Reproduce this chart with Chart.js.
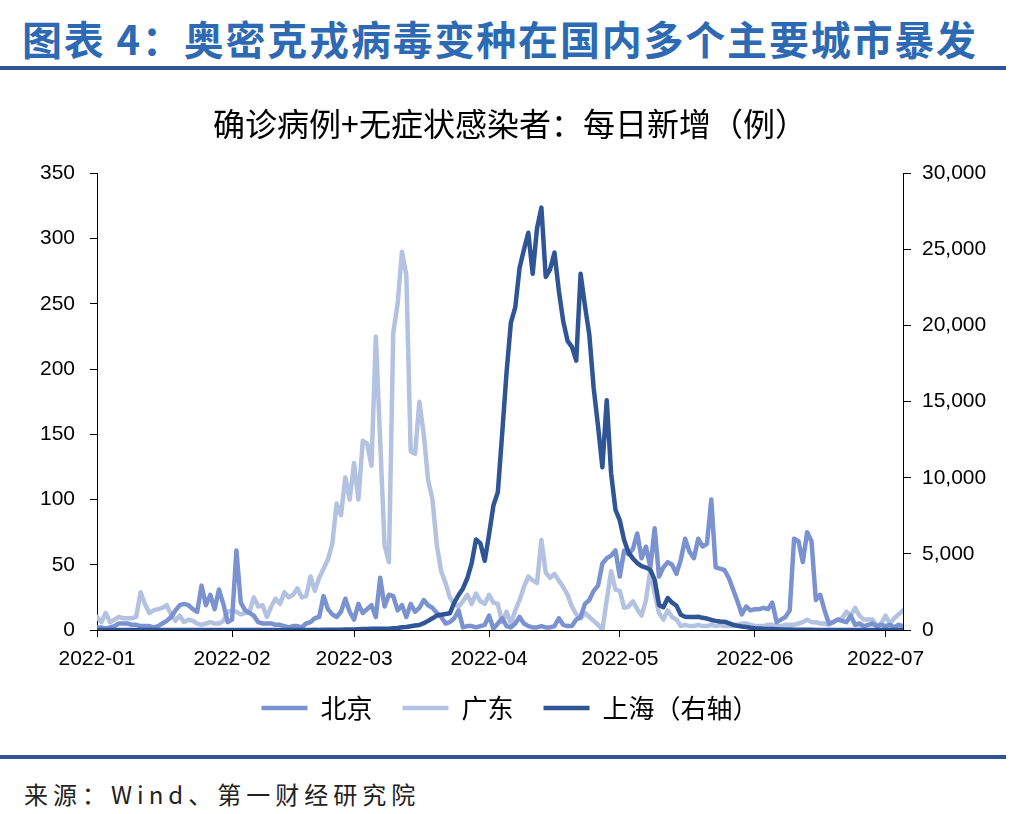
<!DOCTYPE html>
<html>
<head>
<meta charset="utf-8">
<script src="https://cdn.jsdelivr.net/npm/chart.js@4.4.1/dist/chart.umd.min.js"></script>
<style>
  html, body { margin: 0; padding: 0; background: #fff; }
  body { width: 1020px; height: 814px; position: relative; overflow: hidden; font-family: "Noto Sans CJK SC", sans-serif; }
  .head { position: absolute; left: 22px; top: 16px; font-size: 40px; line-height: 44px; font-weight: bold; color: #2E6AB3; letter-spacing: 1.8px; white-space: nowrap; }
  .rule { position: absolute; left: 0; width: 1006px; height: 4px; background: #2F5597; }
  .src { position: absolute; left: 24px; top: 779px; font-size: 24px; line-height: 30px; color: #222; letter-spacing: 5px; white-space: nowrap; }
  #wrap { position: absolute; left: 0; top: 80px; width: 1020px; height: 660px; }
</style>
</head>
<body>
<div class="head">图表 4：奥密克戎病毒变种在国内多个主要城市暴发</div>
<div class="rule" style="top:66px"></div>
<div id="wrap"><canvas id="c"></canvas></div>
<div class="rule" style="top:755px"></div>
<div class="src">来源：Wind、第一财经研究院</div>
<script>
// daily values, 2022-01-01 .. 2022-07-05 (day index 0..185)
const monthTicks = [0, 31, 59, 90, 120, 151, 181];
const monthLabels = ['2022-01', '2022-02', '2022-03', '2022-04', '2022-05', '2022-06', '2022-07'];

const beijing = [
  2, 2, 1, 2, 3, 5, 5, 5, 4, 4,
  3, 3, 3, 2, 3, 5, 7, 10, 15, 19,
  20, 19, 16, 14, 34, 19, 27, 16, 31, 20,
  6, 8, 61, 21, 15, 13, 11, 6, 5, 5,
  5, 4, 4, 3, 2, 3, 3, 2, 5, 6,
  9, 10, 26, 16, 12, 10, 14, 24, 14, 8,
  20, 13, 16, 19, 10, 40, 18, 27, 26, 15,
  19, 10, 20, 14, 17, 23, 19, 17, 13, 10,
  5, 6, 9, 15, 2, 3, 3, 2, 3, 4,
  11, 1, 5, 9, 3, 2, 5, 10, 5, 3,
  2, 2, 3, 2, 2, 3, 9, 4, 3, 3,
  8, 10, 20, 23, 30, 34, 51, 55, 57, 61,
  41, 61, 58, 62, 74, 55, 64, 48, 78, 41,
  48, 52, 50, 43, 54, 70, 60, 55, 70, 64,
  66, 100, 48, 47, 46, 40, 31, 22, 12, 18,
  15, 16, 16, 17, 16, 21, 6, 8, 10, 15,
  70, 68, 52, 75, 68, 23, 27, 15, 5, 6,
  8, 7, 6, 11, 4, 5, 3, 4, 5, 3,
  4, 3, 4, 2, 4, 3
];

const guangdong = [
  10, 6, 13, 6, 8, 10, 9, 9, 9, 10,
  29, 20, 13, 15, 16, 17, 19, 12, 7, 11,
  6, 8, 7, 5, 4, 5, 6, 5, 5, 7,
  14, 15, 14, 12, 13, 14, 25, 18, 19, 10,
  18, 24, 20, 29, 25, 27, 32, 25, 26, 41,
  30, 40, 47, 54, 66, 97, 88, 117, 100, 128,
  100, 145, 143, 126, 225, 145, 65, 52, 228, 250,
  290, 272, 137, 135, 175, 150, 115, 100, 65, 45,
  36, 25, 20, 18, 22, 27, 20, 28, 22, 20,
  27, 21, 20, 6, 14, 5, 15, 23, 33, 41,
  38, 36, 69, 44, 40, 43, 38, 33, 27, 18,
  12, 9, 13, 10, 7, 4, 0, 23, 45, 31,
  30, 17, 18, 22, 16, 11, 23, 46, 28, 13,
  8, 15, 10, 8, 3, 4, 3, 3, 4, 3,
  3, 4, 3, 4, 3, 3, 3, 4, 5, 5,
  4, 3, 3, 3, 4, 4, 3, 3, 4, 4,
  4, 5, 6, 8, 6, 6, 5, 5, 4, 6,
  8, 9, 14, 11, 17, 11, 8, 8, 8, 3,
  5, 11, 5, 9, 12, 15
];

const shanghai = [
  3, 2, 4, 3, 2, 3, 5, 4, 3, 2,
  3, 4, 2, 3, 3, 2, 3, 4, 3, 2,
  3, 2, 4, 3, 3, 2, 3, 4, 3, 3,
  2, 3, 4, 3, 3, 5, 4, 3, 2, 4,
  3, 4, 5, 3, 4, 5, 4, 5, 6, 8,
  10, 8, 12, 15, 16, 18, 20, 25, 30, 40,
  55, 60, 70, 78, 75, 80, 85, 90, 110, 130,
  180, 200, 250, 290, 330, 450, 600, 770, 950, 1000,
  1050, 1100, 1800, 2300, 2730, 3400, 4400, 5950, 5690, 4550,
  6300, 8200, 9050, 12900, 16900, 20200, 21200, 23800, 25000, 26100,
  23400, 26400, 27750, 23200, 23700, 24800, 22300, 20300, 19000, 18600,
  17700, 23400, 21300, 19400, 15900, 13400, 10700, 15100, 10300, 7900,
  7200, 5900, 5100, 4700, 4400, 4200, 4100, 3950, 3300, 1650,
  1500, 2100, 1800, 1600, 1000, 870, 850, 860, 870, 800,
  750, 660, 600, 560, 550, 450, 340, 280, 230, 200,
  150, 120, 100, 80, 70, 60, 50, 40, 30, 25,
  20, 18, 15, 12, 10, 8, 8, 6, 5, 4,
  4, 3, 3, 2, 2, 2, 1, 1, 1, 1,
  1, 1, 1, 1, 1, 1
];

const colors = { beijing: '#7A93D0', guangdong: '#B4C2E2', shanghai: '#2F5597' };
const toPoints = arr => arr.map((v, i) => ({ x: i, y: v }));
const tickFont = { family: 'Liberation Sans', size: 21 };
const cjk = '"Noto Sans CJK SC", sans-serif';

function series(label, arr, color, axis, order) {
  return {
    label, data: toPoints(arr), yAxisID: axis, order,
    borderColor: color, backgroundColor: color,
    pointBorderColor: color, pointBackgroundColor: color, pointBorderWidth: 4.5,
  };
}

new Chart(document.getElementById('c'), {
  type: 'line',
  data: {
    datasets: [
      series('北京', beijing, colors.beijing, 'y', 1),
      series('广东', guangdong, colors.guangdong, 'y', 2),
      series('上海（右轴）', shanghai, colors.shanghai, 'y2', 0),
    ],
  },
  options: {
    responsive: true,
    maintainAspectRatio: false,
    animation: false,
    layout: { padding: { left: 0, right: 0, top: 0, bottom: 9 } },
    elements: {
      line: { borderWidth: 4.5, tension: 0, borderJoinStyle: 'round', borderCapStyle: 'round' },
      point: { radius: 0 },
    },
    plugins: {
      title: {
        display: true,
        text: '确诊病例+无症状感染者：每日新增（例）',
        color: '#000',
        font: { family: cjk, size: 32, weight: 'normal' },
        padding: { top: 25, bottom: 30 },
      },
      legend: {
        position: 'bottom',
        labels: {
          color: '#000',
          font: { family: cjk, size: 26 },
          usePointStyle: true,
          pointStyle: 'line',
          pointStyleWidth: 46,
          padding: 30,
          sort: (a, b) => a.datasetIndex - b.datasetIndex,
        },
      },
      tooltip: { enabled: false },
    },
    scales: {
      x: {
        type: 'linear',
        min: 0,
        max: 185,
        afterBuildTicks: axis => { axis.ticks = monthTicks.map(v => ({ value: v })); },
        afterFit: axis => { axis.height = 35; },
        ticks: {
          autoSkip: false,
          maxRotation: 0,
          color: '#000',
          font: tickFont,
          padding: 10,
          callback: v => monthLabels[monthTicks.indexOf(v)],
        },
        grid: { drawOnChartArea: false, tickLength: 7, color: '#000' },
        border: { color: '#000', width: 1 },
      },
      y: {
        position: 'left',
        min: 0,
        max: 350,
        afterFit: axis => { axis.width = 97; },
        ticks: { stepSize: 50, color: '#000', font: tickFont, padding: 15 },
        grid: { drawOnChartArea: false, tickLength: 7, color: '#000' },
        border: { color: '#000', width: 1 },
      },
      y2: {
        position: 'right',
        min: 0,
        max: 30000,
        afterFit: axis => { axis.width = 117; },
        ticks: {
          stepSize: 5000,
          color: '#000',
          font: tickFont,
          padding: 11,
          callback: v => v === 0 ? '0' : Math.floor(v / 1000) + ',' + String(v % 1000).padStart(3, '0'),
        },
        grid: { drawOnChartArea: false, tickLength: 8, color: '#000' },
        border: { color: '#000', width: 1 },
      },
    },
  },
});
</script>
</body>
</html>
